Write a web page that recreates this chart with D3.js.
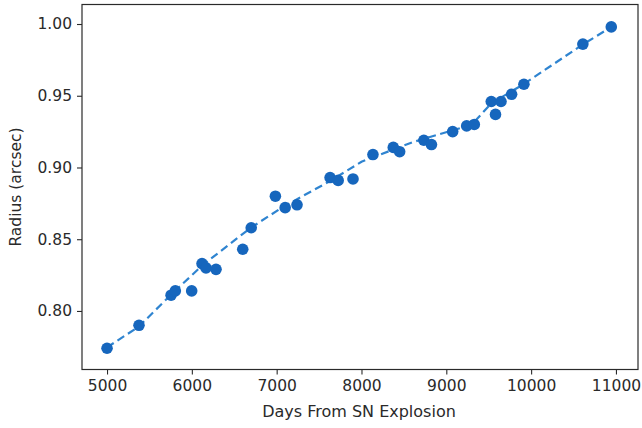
<!DOCTYPE html>
<html>
<head>
<meta charset="utf-8">
<script src="https://cdn.jsdelivr.net/npm/d3@7"></script>
<style>
  html, body { margin: 0; padding: 0; background: #fff; }
  svg { display: block; font-family: "DejaVu Sans", sans-serif; }
</style>
</head>
<body>
<svg id="chart" width="642" height="428"></svg>
<script>
// Measured shell radius versus time since the explosion
const days = [5000, 5377, 5755, 5805, 5998, 6120, 6167, 6285, 6600, 6700,
              6985, 7100, 7240, 7630, 7725, 7900, 8135, 8375, 8450, 8735,
              8825, 9075, 9240, 9330, 9530, 9580, 9645, 9770, 9915, 10610, 10945];
const radius = [0.774, 0.790, 0.811, 0.814, 0.814, 0.833, 0.830, 0.829, 0.843, 0.858,
                0.880, 0.872, 0.874, 0.893, 0.891, 0.892, 0.909, 0.914, 0.911, 0.919,
                0.916, 0.925, 0.929, 0.930, 0.946, 0.937, 0.946, 0.951, 0.958, 0.986, 0.998];

// Smooth model curve drawn as a dashed line
const fitDays   = [5000, 5377, 5750, 6130, 6690, 7075, 7630, 8000, 8610, 9300, 9530, 9910, 10600, 10945];
const fitRadius = [0.7746, 0.7892, 0.8111, 0.8321, 0.8578, 0.8725, 0.8906, 0.9040, 0.9178, 0.9298, 0.9447, 0.9580, 0.9854, 0.9979];

const xTicks = [5000, 6000, 7000, 8000, 9000, 10000, 11000];
const yTicks = [0.80, 0.85, 0.90, 0.95, 1.00];

const svg = d3.select("#chart");
const plot = { left: 82, right: 638, top: 4.5, bottom: 369.5 };

const x = d3.scaleLinear().domain([4705, 11260]).range([plot.left, plot.right]);
const y = d3.scaleLinear().domain([0.7592, 1.0136]).range([plot.bottom, plot.top]);

const markColor = "#1666bd";
const lineColor = "#2f84d0";
const inkColor = "#2a2a2a";

// Dashed model line
svg.append("path")
  .datum(d3.zip(fitDays, fitRadius))
  .attr("fill", "none")
  .attr("stroke", lineColor)
  .attr("stroke-width", 2.2)
  .attr("stroke-dasharray", "8,4.5")
  .attr("d", d3.line().x(d => x(d[0])).y(d => y(d[1])));

// Measurements
svg.append("g")
  .selectAll("circle")
  .data(d3.zip(days, radius))
  .join("circle")
  .attr("cx", d => x(d[0]))
  .attr("cy", d => y(d[1]))
  .attr("r", 5.8)
  .attr("fill", markColor);

// Axes
const xAxis = svg.append("g")
  .attr("transform", `translate(0,${plot.bottom})`)
  .call(d3.axisBottom(x).tickValues(xTicks).tickFormat(d3.format("d")).tickSize(5).tickPadding(5));
const yAxis = svg.append("g")
  .attr("transform", `translate(${plot.left},0)`)
  .call(d3.axisLeft(y).tickValues(yTicks).tickFormat(d3.format(".2f")).tickSize(5).tickPadding(5));

[xAxis, yAxis].forEach(g => {
  g.select(".domain").remove();
  g.selectAll("line").attr("stroke", inkColor).attr("stroke-width", 1.1);
  g.selectAll("text").attr("fill", inkColor).attr("font-size", 15.5)
    .attr("font-family", "DejaVu Sans, sans-serif");
});

// Frame around the plotting area
svg.append("rect")
  .attr("x", plot.left).attr("y", plot.top)
  .attr("width", plot.right - plot.left).attr("height", plot.bottom - plot.top)
  .attr("fill", "none").attr("stroke", inkColor).attr("stroke-width", 1.2);

// Axis titles
svg.append("text")
  .attr("x", (plot.left + plot.right) / 2 - 1).attr("y", 417)
  .attr("text-anchor", "middle").attr("fill", inkColor).attr("font-size", 16)
  .text("Days From SN Explosion");
svg.append("text")
  .attr("transform", `translate(21,${(plot.top + plot.bottom) / 2}) rotate(-90)`)
  .attr("text-anchor", "middle").attr("fill", inkColor).attr("font-size", 15.5)
  .text("Radius (arcsec)");
</script>
</body>
</html>
